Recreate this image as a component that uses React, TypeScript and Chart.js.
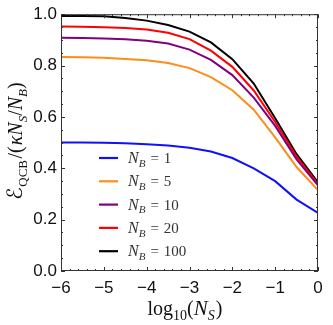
import React, { useEffect, useRef } from "react";
import { Chart, registerables } from "chart.js";

Chart.register(...registerables);

const xValues = [-6, -5.5, -5, -4.5, -4, -3.5, -3, -2.5, -2, -1.5, -1, -0.5, 0];
const nb1 = [0.5, 0.5, 0.499, 0.497, 0.494, 0.489, 0.48, 0.465, 0.44, 0.4, 0.35, 0.278, 0.226];
const nb5 = [0.833, 0.832, 0.83, 0.826, 0.821, 0.81, 0.79, 0.755, 0.704, 0.628, 0.52, 0.405, 0.315];
const nb10 = [0.908, 0.907, 0.905, 0.902, 0.897, 0.886, 0.862, 0.822, 0.763, 0.675, 0.565, 0.435, 0.333];
const nb20 = [0.952, 0.951, 0.949, 0.946, 0.94, 0.928, 0.903, 0.858, 0.795, 0.703, 0.58, 0.445, 0.338];
const nb100 = [0.993, 0.993, 0.992, 0.985, 0.975, 0.958, 0.932, 0.89, 0.825, 0.73, 0.595, 0.455, 0.345];
const seriesLabels = ["1", "5", "10", "20", "100"];
const seriesColors = ["#1010ff", "#ff8c1a", "#800080", "#ff0000", "#000000"];
const seriesValues = [nb1, nb5, nb10, nb20, nb100];
const xTicks = [-6, -5, -4, -3, -2, -1, 0];
const yTicks = [0, 0.2, 0.4, 0.6, 0.8, 1.0];

type Part = { t: string; it?: boolean; sub?: boolean; size: number; font?: string; pad?: number };
const SERIF = "'Liberation Serif', 'DejaVu Serif', serif";

function partFont(p: Part) {
  return `${p.it ? "italic " : ""}${p.size}px ${p.font || SERIF}`;
}
function partWidth(ctx: CanvasRenderingContext2D, p: Part) {
  ctx.font = partFont(p);
  return ctx.measureText(p.t).width + 2 * (p.pad || 0);
}
function measureParts(ctx: CanvasRenderingContext2D, parts: Part[]) {
  let w = 0;
  for (const p of parts) w += partWidth(ctx, p);
  return w;
}
function drawParts(ctx: CanvasRenderingContext2D, parts: Part[], x: number, y: number) {
  let cx = x;
  ctx.textBaseline = "alphabetic";
  ctx.textAlign = "left";
  for (const p of parts) {
    ctx.font = partFont(p);
    ctx.fillText(p.t, cx + (p.pad || 0), y + (p.sub ? p.size * 0.35 : 0));
    cx += partWidth(ctx, p);
  }
}

const framePlugin = {
  id: "framePlugin",
  afterDraw(chart: any) {
    const ctx: CanvasRenderingContext2D = chart.ctx;
    const { left, right, top, bottom } = chart.chartArea;
    const xs = chart.scales.x;
    const ys = chart.scales.y;
    ctx.save();
    ctx.strokeStyle = "#333";
    ctx.lineWidth = 1;
    ctx.strokeRect(left + 0.5, top + 0.5, right - left - 1, bottom - top - 1);
    ctx.beginPath();
    for (let i = -30; i <= 0; i++) {
      const v = i / 5;
      const px = Math.round(xs.getPixelForValue(v)) + 0.5;
      const len = i % 5 === 0 ? 4 : 2;
      ctx.moveTo(px, bottom);
      ctx.lineTo(px, bottom - len);
      ctx.moveTo(px, top);
      ctx.lineTo(px, top + len);
    }
    for (let i = 0; i <= 20; i++) {
      const v = i / 20;
      const py = Math.round(ys.getPixelForValue(v)) + 0.5;
      const len = i % 4 === 0 ? 4 : 2;
      ctx.moveTo(left, py);
      ctx.lineTo(left + len, py);
      ctx.moveTo(right, py);
      ctx.lineTo(right - len, py);
    }
    ctx.stroke();

    // legend
    ctx.fillStyle = "#333";
    seriesLabels.forEach((lab, i) => {
      const y = 158 + i * 23.3;
      ctx.strokeStyle = seriesColors[i];
      ctx.lineWidth = 2.2;
      ctx.beginPath();
      ctx.moveTo(99, y);
      ctx.lineTo(118, y);
      ctx.stroke();
      drawParts(
        ctx,
        [
          { t: "N", it: true, size: 16 },
          { t: "B", it: true, sub: true, size: 11 },
          { t: "=", size: 15, pad: 5 },
          { t: lab, size: 15 },
        ],
        128,
        y + 5
      );
    });

    // x title
    ctx.fillStyle = "#111";
    const xt: Part[] = [
      { t: "log", size: 20 },
      { t: "10", sub: true, size: 14 },
      { t: "(", size: 20 },
      { t: "N", it: true, size: 21 },
      { t: "S", it: true, sub: true, size: 14 },
      { t: ")", size: 20, pad: 1 },
    ];
    const xw = measureParts(ctx, xt);
    drawParts(ctx, xt, (left + right) / 2 - 4 - xw / 2, 315);

    // y title
    const yt: Part[] = [
      { t: "ℰ", size: 21, font: "'DejaVu Sans', sans-serif" },
      { t: "QCB", sub: true, size: 13, pad: 0.5 },
      { t: "/(", size: 20, pad: 1 },
      { t: "κ", it: true, size: 20 },
      { t: "N", it: true, size: 20 },
      { t: "S", it: true, sub: true, size: 13 },
      { t: "/", size: 20 },
      { t: "N", it: true, size: 20 },
      { t: "B", it: true, sub: true, size: 13 },
      { t: ")", size: 20 },
    ];
    const yw = measureParts(ctx, yt);
    ctx.translate(22, (top + bottom) / 2 - 1.5);
    ctx.rotate(-Math.PI / 2);
    drawParts(ctx, yt, -yw / 2, 0);
    ctx.restore();
  },
};

export default function App() {
  const ref = useRef<HTMLCanvasElement | null>(null);
  useEffect(() => {
    document.body.style.margin = "0";
    const canvas = ref.current!;
    const chart = new Chart(canvas, {
      type: "line",
      data: {
        datasets: seriesValues.map((vals, i) => ({
          label: "N_B = " + seriesLabels[i],
          data: vals.map((v, j) => ({ x: xValues[j], y: v })),
          borderColor: seriesColors[i],
          backgroundColor: seriesColors[i],
          borderWidth: 2,
          pointRadius: 0,
          tension: 0,
          fill: false,
        })),
      },
      options: {
        responsive: false,
        animation: false,
        devicePixelRatio: 1,
        layout: { padding: { top: 14, right: 15, left: 0, bottom: 0 } },
        plugins: { legend: { display: false }, tooltip: { enabled: false } },
        scales: {
          x: {
            type: "linear",
            min: -6,
            max: 0,
            afterFit: (s: any) => {
              s.height = 54;
            },
            afterBuildTicks: (s: any) => {
              s.ticks = xTicks.map((v) => ({ value: v }));
            },
            grid: { display: false, drawTicks: false },
            border: { display: false },
            ticks: {
              padding: 7,
              color: "#111",
              font: { family: "'Liberation Sans', Arial, sans-serif", size: 17 },
              callback: (v: any) => (Number(v) < 0 ? "\u2212" + Math.abs(Number(v)) : String(v)),
            },
          },
          y: {
            type: "linear",
            min: 0,
            max: 1,
            afterFit: (s: any) => {
              s.width = 61;
            },
            afterBuildTicks: (s: any) => {
              s.ticks = yTicks.map((v) => ({ value: v }));
            },
            grid: { display: false, drawTicks: false },
            border: { display: false },
            ticks: {
              padding: 4,
              color: "#111",
              font: { family: "'Liberation Sans', Arial, sans-serif", size: 17 },
              callback: (v: any) => Number(v).toFixed(1),
            },
          },
        },
      },
      plugins: [framePlugin],
    } as any);
    return () => chart.destroy();
  }, []);
  return (
    <div style={{ width: 333, height: 325 }}>
      <canvas ref={ref} width={333} height={325} style={{ display: "block" }} />
    </div>
  );
}
